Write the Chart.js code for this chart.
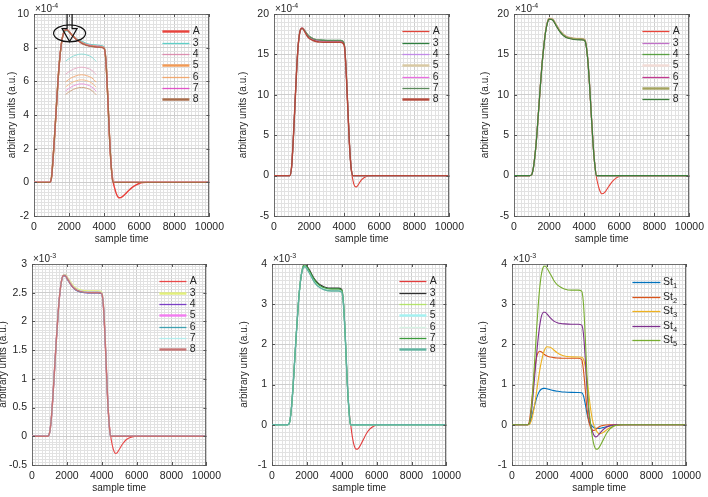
<!DOCTYPE html>
<html>
<head>
<meta charset="utf-8">
<script src="https://cdn.jsdelivr.net/npm/chart.js@4.4.0/dist/chart.umd.min.js"></script>
<style>
  html, body { margin: 0; padding: 0; background: #fff; overflow: hidden; }
  #fig { position: relative; width: 708px; height: 497px; }
  #fig canvas { position: absolute; }
</style>
</head>
<body>
<div id="fig"></div>
<script>
// sample times (x values)
const sampleTime = [0, 900, 1000, 1100, 1200, 1300, 1400, 1500, 1600, 1700,
  1800, 1900, 2000, 2200, 2400, 2600, 2800, 3000, 3400, 3800,
  4000, 4100, 4200, 4300, 4400, 4500, 4600, 4700, 4800, 4900,
  5000, 5200, 5400, 5600, 5800, 6000, 6200, 6400, 7000, 10000];
const sampleTimeShort = [0, 900, 1000, 1100, 1200, 1300, 1400, 1500, 1600, 1700,
  1800, 1900, 2000, 2200, 2400, 2600, 2800, 3000, 3400, 3800,
  4000, 4100, 4200, 4300, 4400, 4500, 4600, 4700, 4800, 10000];
const insetTime = [1800, 2100, 2400, 2700, 3000, 3300, 3550];

const seriesLabels = ['A', '3', '4', '5', '6', '7', '8'];
const stLabels = ['1', '2', '3', '4', '5'];

// all values in units of 1e-4 a.u.
const a1 = [0, 0, 0.3, 1.6, 3.2, 4.9, 6.5, 7.7, 8.5, 8.9,
  9.05, 9.05, 8.95, 8.7, 8.5, 8.35, 8.22, 8.15, 8.07, 8.03,
  7.95, 7.2, 5.2, 2.8, 1.0, 0.1, -0.35, -0.7, -0.88, -0.92,
  -0.88, -0.7, -0.48, -0.3, -0.16, -0.07, -0.02, 0, 0, 0];
const a2 = [0, 0, 1.0, 4.5, 9.0, 13.5, 16.6, 18.0, 18.3, 18.1,
  17.7, 17.35, 17.1, 16.85, 16.7, 16.62, 16.58, 16.55, 16.55, 16.55,
  16.2, 13.5, 8.8, 4.0, 0.9, -0.6, -1.3, -1.4, -1.15, -0.8,
  -0.5, -0.18, -0.05, 0, 0, 0, 0, 0, 0, 0];
const a3 = [0, 0, 0.1, 0.9, 2.6, 5.0, 8.0, 11.0, 13.8, 16.0,
  17.8, 18.9, 19.4, 19.3, 18.6, 17.9, 17.4, 17.1, 16.9, 16.85,
  16.8, 16.3, 14.5, 11.5, 7.8, 4.2, 1.5, -0.2, -1.2, -1.9,
  -2.25, -2.0, -1.35, -0.75, -0.35, -0.12, -0.02, 0, 0, 0];
const a4 = [0, 0, 0.5, 2.8, 7.0, 12.0, 17.0, 21.5, 25.0, 27.2,
  28.0, 28.0, 27.6, 26.6, 25.8, 25.4, 25.2, 25.1, 25.0, 25.0,
  24.8, 22.5, 16.5, 9.0, 3.2, 0.3, -1.5, -2.6, -3.0, -2.8,
  -2.3, -1.3, -0.6, -0.25, -0.06, 0, 0, 0, 0, 0];
const a5 = [0, 0, 0.5, 3.5, 9.0, 16.0, 23.0, 29.5, 34.5, 37.8,
  39.3, 39.5, 39.0, 37.5, 35.9, 34.8, 34.2, 33.8, 33.5, 33.5,
  33.2, 30.0, 22.0, 12.0, 4.5, 0.5, -2.8, -5.0, -6.0, -6.05,
  -5.6, -4.0, -2.3, -1.1, -0.4, -0.1, 0, 0, 0, 0];

// panel 1, series 3..8
const p1s3 = [0, 0, 0.3, 1.6, 3.2, 4.9, 6.5, 7.7, 8.5, 8.9, 9.0, 9.0, 8.93, 8.74, 8.57, 8.44, 8.33, 8.25, 8.17, 8.13, 8.05, 7.3, 5.3, 2.9, 1.0, 0, 0, 0, 0, 0];
const p1s4 = [0, 0, 0.3, 1.6, 3.2, 4.9, 6.5, 7.7, 8.5, 8.9, 9.05, 9.04, 8.95, 8.73, 8.54, 8.4, 8.28, 8.2, 8.12, 8.08, 8.0, 7.25, 5.25, 2.85, 1.0, 0, 0, 0, 0, 0];
const p1s5 = [0, 0, 0.3, 1.6, 3.2, 4.9, 6.5, 7.7, 8.5, 8.9, 9.06, 9.05, 8.96, 8.72, 8.52, 8.37, 8.25, 8.17, 8.09, 8.05, 7.98, 7.22, 5.22, 2.82, 1.0, 0, 0, 0, 0, 0];
const p1s6 = [0, 0, 0.3, 1.6, 3.2, 4.9, 6.5, 7.7, 8.5, 8.9, 9.06, 9.05, 8.95, 8.71, 8.51, 8.36, 8.24, 8.16, 8.08, 8.04, 7.97, 7.21, 5.21, 2.81, 1.0, 0, 0, 0, 0, 0];
const p1s7 = [0, 0, 0.3, 1.6, 3.2, 4.9, 6.5, 7.7, 8.5, 8.9, 9.06, 9.05, 8.95, 8.7, 8.5, 8.35, 8.23, 8.15, 8.07, 8.03, 7.96, 7.2, 5.2, 2.8, 1.0, 0, 0, 0, 0, 0];
const p1s8 = [0, 0, 0.3, 1.6, 3.2, 4.9, 6.5, 7.7, 8.5, 8.9, 9.05, 9.04, 8.94, 8.7, 8.5, 8.35, 8.22, 8.14, 8.06, 8.02, 7.95, 7.2, 5.2, 2.8, 1.0, 0, 0, 0, 0, 0];
// panel 1 inset arcs
const in3 = [7.2, 7.42, 7.56, 7.62, 7.57, 7.43, 7.18];
const in4 = [6.42, 6.64, 6.78, 6.84, 6.79, 6.65, 6.4];
const in5 = [5.97, 6.19, 6.33, 6.39, 6.34, 6.2, 5.95];
const in6 = [5.67, 5.89, 6.03, 6.09, 6.04, 5.9, 5.65];
const in7 = [5.43, 5.65, 5.79, 5.85, 5.8, 5.66, 5.41];
const in8 = [5.22, 5.44, 5.58, 5.64, 5.59, 5.45, 5.2];

// panel 2
const p2s3 = [0, 0, 1.0, 4.5, 9.0, 13.5, 16.6, 18.0, 18.2, 18.1, 17.8, 17.5, 17.25, 17.0, 16.85, 16.8, 16.77, 16.75, 16.75, 16.75, 16.4, 13.6, 8.9, 4.0, 0.9, 0, 0, 0, 0, 0];
const p2s4 = [0, 0, 1.0, 4.5, 9.0, 13.5, 16.6, 18.0, 18.25, 18.05, 17.7, 17.4, 17.15, 16.9, 16.75, 16.68, 16.64, 16.62, 16.62, 16.62, 16.3, 13.5, 8.8, 4.0, 0.9, 0, 0, 0, 0, 0];
const p2s5 = [0, 0, 1.0, 4.5, 9.0, 13.5, 16.6, 18.05, 18.3, 18.15, 17.8, 17.45, 17.2, 16.95, 16.8, 16.72, 16.68, 16.66, 16.65, 16.65, 16.3, 13.6, 8.9, 4.0, 0.9, 0, 0, 0, 0, 0];
const p2s6 = [0, 0, 1.0, 4.5, 9.0, 13.5, 16.6, 18.0, 18.28, 18.1, 17.75, 17.42, 17.17, 16.92, 16.77, 16.7, 16.66, 16.64, 16.63, 16.63, 16.3, 13.5, 8.8, 4.0, 0.9, 0, 0, 0, 0, 0];
const p2s7 = [0, 0, 1.0, 4.5, 9.0, 13.5, 16.6, 18.0, 18.22, 18.08, 17.78, 17.47, 17.22, 16.97, 16.82, 16.75, 16.72, 16.7, 16.7, 16.7, 16.35, 13.6, 8.9, 4.0, 0.9, 0, 0, 0, 0, 0];
const p2s8 = [0, 0, 1.0, 4.5, 9.0, 13.5, 16.6, 18.0, 18.25, 18.0, 17.6, 17.25, 17.0, 16.75, 16.6, 16.52, 16.5, 16.5, 16.5, 16.5, 16.15, 13.4, 8.7, 3.9, 0.9, 0, 0, 0, 0, 0];

// panel 3
const p3s3 = [0, 0, 0.1, 0.9, 2.6, 5.0, 8.0, 11.0, 13.8, 16.0, 17.8, 18.95, 19.45, 19.38, 18.7, 18.0, 17.5, 17.2, 17.0, 16.95, 16.9, 16.4, 14.6, 11.6, 7.8, 4.2, 1.5, 0, 0, 0];
const p3s4 = [0, 0, 0.1, 0.9, 2.6, 5.0, 8.0, 11.0, 13.8, 16.0, 17.8, 18.9, 19.38, 19.3, 18.62, 17.92, 17.42, 17.12, 16.92, 16.87, 16.82, 16.3, 14.5, 11.5, 7.8, 4.2, 1.5, 0, 0, 0];
const p3s5 = [0, 0, 0.1, 0.9, 2.6, 5.0, 8.0, 11.0, 13.8, 16.0, 17.85, 19.0, 19.5, 19.45, 18.75, 18.05, 17.55, 17.25, 17.05, 17.0, 16.95, 16.45, 14.6, 11.6, 7.8, 4.2, 1.5, 0, 0, 0];
const p3s6 = [0, 0, 0.1, 0.9, 2.6, 5.0, 8.0, 11.0, 13.8, 16.0, 17.8, 18.92, 19.4, 19.32, 18.64, 17.94, 17.44, 17.14, 16.94, 16.89, 16.84, 16.32, 14.5, 11.5, 7.8, 4.2, 1.5, 0, 0, 0];
const p3s7 = [0, 0, 0.1, 0.9, 2.6, 5.0, 8.0, 11.0, 13.8, 16.0, 17.82, 18.95, 19.43, 19.36, 18.68, 17.98, 17.48, 17.18, 16.98, 16.93, 16.88, 16.36, 14.55, 11.55, 7.8, 4.2, 1.5, 0, 0, 0];
const p3s8 = [0, 0, 0.1, 0.9, 2.6, 5.0, 8.0, 11.0, 13.8, 16.0, 17.75, 18.85, 19.35, 19.25, 18.55, 17.85, 17.35, 17.05, 16.85, 16.8, 16.75, 16.25, 14.45, 11.45, 7.8, 4.2, 1.5, 0, 0, 0];

// panel 4
const p4s3 = [0, 0, 0.5, 2.8, 7.0, 12.0, 17.0, 21.5, 25.0, 27.2, 28.1, 28.2, 27.85, 26.9, 26.1, 25.65, 25.45, 25.35, 25.3, 25.3, 25.1, 22.7, 16.6, 9.0, 3.2, 0, 0, 0, 0, 0];
const p4s4 = [0, 0, 0.5, 2.8, 7.0, 12.0, 17.0, 21.5, 25.0, 27.2, 27.9, 27.9, 27.5, 26.5, 25.7, 25.3, 25.1, 25.0, 24.95, 24.95, 24.75, 22.4, 16.4, 9.0, 3.2, 0, 0, 0, 0, 0];
const p4s5 = [0, 0, 0.5, 2.8, 7.0, 12.0, 17.0, 21.5, 25.0, 27.2, 28.0, 28.05, 27.65, 26.65, 25.85, 25.45, 25.25, 25.15, 25.1, 25.1, 24.9, 22.5, 16.5, 9.0, 3.2, 0, 0, 0, 0, 0];
const p4s6 = [0, 0, 0.5, 2.8, 7.0, 12.0, 17.0, 21.5, 25.0, 27.2, 27.95, 27.95, 27.55, 26.55, 25.75, 25.35, 25.15, 25.05, 25.0, 25.0, 24.8, 22.45, 16.45, 9.0, 3.2, 0, 0, 0, 0, 0];
const p4s7 = [0, 0, 0.5, 2.8, 7.0, 12.0, 17.0, 21.5, 25.0, 27.2, 28.05, 28.1, 27.7, 26.7, 25.9, 25.5, 25.3, 25.2, 25.15, 25.15, 24.95, 22.6, 16.55, 9.0, 3.2, 0, 0, 0, 0, 0];
const p4s8 = [0, 0, 0.5, 2.8, 7.0, 12.0, 17.0, 21.5, 25.0, 27.2, 28.0, 28.0, 27.6, 26.6, 25.8, 25.4, 25.2, 25.1, 25.05, 25.05, 24.85, 22.5, 16.5, 9.0, 3.2, 0, 0, 0, 0, 0];

// panel 5
const p5s3 = [0, 0, 0.5, 3.5, 9.0, 16.0, 23.0, 29.5, 34.5, 37.8, 39.6, 39.9, 39.5, 38.1, 36.5, 35.4, 34.7, 34.3, 34.0, 34.0, 33.7, 30.4, 22.2, 12.0, 4.5, 0, 0, 0, 0, 0];
const p5s4 = [0, 0, 0.5, 3.5, 9.0, 16.0, 23.0, 29.5, 34.5, 37.8, 39.4, 39.6, 39.1, 37.6, 36.0, 34.9, 34.3, 33.9, 33.6, 33.6, 33.3, 30.1, 22.0, 12.0, 4.5, 0, 0, 0, 0, 0];
const p5s5 = [0, 0, 0.5, 3.5, 9.0, 16.0, 23.0, 29.5, 34.5, 37.8, 39.3, 39.5, 39.0, 37.5, 35.9, 34.8, 34.2, 33.8, 33.5, 33.5, 33.2, 30.0, 22.0, 12.0, 4.5, 0, 0, 0, 0, 0];
const p5s6 = [0, 0, 0.5, 3.5, 9.0, 16.0, 23.0, 29.5, 34.5, 37.8, 39.35, 39.55, 39.05, 37.55, 35.95, 34.85, 34.25, 33.85, 33.55, 33.55, 33.25, 30.0, 22.0, 12.0, 4.5, 0, 0, 0, 0, 0];
const p5s7 = [0, 0, 0.5, 3.5, 9.0, 16.0, 23.0, 29.5, 34.5, 37.8, 39.5, 39.8, 39.35, 37.9, 36.3, 35.2, 34.5, 34.1, 33.8, 33.8, 33.5, 30.2, 22.1, 12.0, 4.5, 0, 0, 0, 0, 0];
const p5s8 = [0, 0, 0.5, 3.5, 9.0, 16.0, 23.0, 29.5, 34.5, 37.8, 39.1, 39.3, 38.8, 37.3, 35.7, 34.6, 34.0, 33.6, 33.3, 33.3, 33.0, 29.8, 21.9, 12.0, 4.5, 0, 0, 0, 0, 0];

const TXT = '#262626';
const BOX = '#6e6e6e';
const GRID_MAJOR = '#cdcdcd';
const GRID_MINOR = '#e2e2e2';
const FONT = '"Liberation Sans", Arial, sans-serif';

Chart.defaults.font.family = FONT;

function isMajor(v, major) {
  const r = v / major;
  return Math.abs(r - Math.round(r)) < 1e-6;
}
function fmt(v) {
  const r = Math.round(v * 100) / 100;
  return String(r === 0 ? 0 : r);
}

// thick legend entries get a wider sample line; plot lines stay thin
function line(label, xs, ys, color, thick, order) {
  return {
    label: label,
    data: ys.map((v, i) => ({ x: xs[i], y: v })),
    borderColor: color,
    borderWidth: thick ? 1.4 : 1.1,
    legendWidth: thick ? 2.4 : 1.3,
    pointRadius: 0,
    fill: false,
    cubicInterpolationMode: 'monotone',
    order: order
  };
}

function stepSeries(A, rest, colors, thick) {
  const sets = [line(seriesLabels[0], sampleTime, A, colors[0], thick[0], 10)];
  rest.forEach((ys, i) => {
    sets.push(line(seriesLabels[i + 1], sampleTimeShort, ys, colors[i + 1], thick[i + 1], 9 - i));
  });
  return sets;
}

const panel1Sets = stepSeries(a1, [p1s3, p1s4, p1s5, p1s6, p1s7, p1s8],
  ['#e8423c', '#5fcfc7', '#dc8fb0', '#f29a55', '#f0a970', '#e055c8', '#a86b48'],
  [1, 0, 0, 1, 0, 0, 1]);
[[in3, '#8fdcd6'], [in4, '#e8b0c8'], [in5, '#f4b07e'], [in6, '#f6bf90'], [in7, '#eb9cdc'], [in8, '#d2a888']]
  .forEach(([ys, c]) => {
    const d = line('', insetTime, ys, c, 0, 20);
    d.borderWidth = 1;
    d.cubicInterpolationMode = 'default';
    d.tension = 0.4;
    panel1Sets.push(d);
  });

const panel6Sets = [a1, a2, a3, a4, a5].map((ys, i) => {
  const d = line('St', sampleTime, ys, ['#0072BD', '#D95319', '#EDB120', '#7E2F8E', '#77AC30'][i], 0, 10 - i);
  d.sub = stLabels[i];
  return d;
});

const legendSmall = { x0: 47, x1: 20, tx: 16.7, top: 17.4, step: 11.3 };
const legendSt = { x0: 54, x1: 26, tx: 23.3, top: 18, step: 14.5 };

const panels = [
  { box: [34, 14, 213, 216], y: [-2, 10, 0.2, 2, 1], exp: '-4', tOff: 22, legend: legendSmall, mark: true,
    sets: panel1Sets },
  { box: [274, 14, 453, 216], y: [-5, 20, 0.5, 5, 1], exp: '-4', tOff: 31, legend: legendSmall,
    sets: stepSeries(a2, [p2s3, p2s4, p2s5, p2s6, p2s7, p2s8],
      ['#e0443a', '#2f7f3f', '#c28ae8', '#d9c9a3', '#e86ee0', '#5b8a5b', '#b5483a'],
      [0, 0, 0, 1, 0, 0, 1]) },
  { box: [514, 14, 693, 216], y: [-5, 20, 0.5, 5, 1], exp: '-4', tOff: 29, legend: legendSmall,
    sets: stepSeries(a3, [p3s3, p3s4, p3s5, p3s6, p3s7, p3s8],
      ['#e8443a', '#c070c8', '#5aa043', '#f2dcd6', '#c03a90', '#a3a35e', '#3b7d3b'],
      [0, 0, 0, 1, 0, 1, 0]) },
  { box: [32, 264, 210, 465], y: [-5, 30, 0.5, 5, 10], exp: '-3', tOff: 28.5, legend: legendSmall,
    sets: stepSeries(a4, [p4s3, p4s4, p4s5, p4s6, p4s7, p4s8],
      ['#e84848', '#e3f07a', '#7b3fc4', '#f27cf0', '#3fa0b0', '#b3ecec', '#c77474'],
      [0, 1, 0, 1, 0, 0, 1]) },
  { box: [272, 264, 450, 465], y: [-10, 40, 1, 10, 10], exp: '-3', tOff: 28, legend: legendSmall,
    sets: stepSeries(a5, [p5s3, p5s4, p5s5, p5s6, p5s7, p5s8],
      ['#e23c3c', '#303030', '#b3e36b', '#a4f2f2', '#d6f2e3', '#3b9a3b', '#5fb3a0'],
      [0, 0, 0, 1, 0, 0, 1]) },
  { box: [512, 264, 690, 465], y: [-10, 40, 1, 10, 10], exp: '-3', tOff: 29, legend: legendSt,
    sets: panel6Sets }
];

const axesDecor = {
  id: 'axesDecor',
  afterDraw(chart, args, o) {
    const { ctx, chartArea: a } = chart;
    const xs = chart.scales.x, ys = chart.scales.y;
    ctx.save();
    // box
    ctx.strokeStyle = BOX;
    ctx.lineWidth = 1;
    ctx.beginPath();
    ctx.moveTo(a.left, Math.round(a.top) + 0.5);
    ctx.lineTo(Math.round(a.right) - 0.5, Math.round(a.top) + 0.5);
    ctx.lineTo(Math.round(a.right) - 0.5, a.bottom);
    ctx.stroke();
    // inward major ticks
    ctx.strokeStyle = '#555';
    ctx.beginPath();
    xs.ticks.forEach(t => {
      if (!isMajor(t.value, 2000)) return;
      const px = Math.round(xs.getPixelForValue(t.value)) + 0.5;
      ctx.moveTo(px, a.bottom); ctx.lineTo(px, a.bottom - 3);
      ctx.moveTo(px, a.top); ctx.lineTo(px, a.top + 3);
    });
    ys.ticks.forEach(t => {
      if (!isMajor(t.value, o.major)) return;
      const py = Math.round(ys.getPixelForValue(t.value)) + 0.5;
      ctx.moveTo(a.left, py); ctx.lineTo(a.left + 3, py);
      ctx.moveTo(a.right, py); ctx.lineTo(a.right - 3, py);
    });
    ctx.stroke();

    ctx.fillStyle = TXT;
    // exponent
    ctx.font = '10px ' + FONT;
    ctx.textBaseline = 'alphabetic';
    ctx.textAlign = 'left';
    ctx.fillText('\u00d710', a.left + 1, a.top - 2);
    const w = ctx.measureText('\u00d710').width;
    ctx.font = '7px ' + FONT;
    ctx.fillText(o.exp, a.left + 1 + w, a.top - 6);

    // axis titles
    ctx.font = '10px ' + FONT;
    ctx.textAlign = 'center';
    ctx.textBaseline = 'middle';
    ctx.fillText('sample time', (a.left + a.right) / 2, a.bottom + 23);
    ctx.save();
    ctx.translate(a.left - o.tOff, (a.top + a.bottom) / 2);
    ctx.rotate(-Math.PI / 2);
    ctx.fillText('arbitrary units (a.u.)', 0, 0);
    ctx.restore();

    // legend
    const lg = o.legend;
    let k = 0;
    chart.data.datasets.forEach(d => {
      if (!d.label) return;
      const yy = Math.round(a.top + lg.top + k * lg.step) + 0.5;
      ctx.strokeStyle = d.borderColor;
      ctx.lineWidth = d.legendWidth;
      ctx.beginPath();
      ctx.moveTo(a.right - lg.x0, yy);
      ctx.lineTo(a.right - lg.x1, yy);
      ctx.stroke();
      ctx.fillStyle = TXT;
      ctx.textAlign = 'left';
      ctx.font = '10.5px ' + FONT;
      ctx.fillText(d.label, a.right - lg.tx, yy);
      if (d.sub) {
        const lw = ctx.measureText(d.label).width;
        ctx.font = '7.5px ' + FONT;
        ctx.fillText(d.sub, a.right - lg.tx + lw, yy + 3);
      }
      k++;
    });

    // highlight mark (ellipse + arrow)
    if (o.mark) {
      const cx = xs.getPixelForValue(2000) + 0.5;
      const cy = ys.getPixelForValue(8.85);
      ctx.strokeStyle = '#111';
      ctx.lineWidth = 1.2;
      ctx.beginPath();
      ctx.ellipse(cx, cy, 16, 8.5, 0, 0, Math.PI * 2);
      ctx.stroke();
      ctx.beginPath();
      ctx.moveTo(cx - 2.5, a.top);
      ctx.lineTo(cx - 2.5, cy - 4.7);
      ctx.lineTo(cx - 7.5, cy - 4.7);
      ctx.lineTo(cx, cy + 8.3);
      ctx.lineTo(cx + 7.5, cy - 4.7);
      ctx.lineTo(cx + 2.5, cy - 4.7);
      ctx.lineTo(cx + 2.5, a.top);
      ctx.stroke();
    }
    ctx.restore();
  }
};

const fig = document.getElementById('fig');
panels.forEach(p => {
  const [L, T, R, B] = p.box;
  const [yMin, yMax, yStep, yMajor, yDiv] = p.y;
  const w = R - L + 40 + 16;
  const h = B - T + 14 + 30;
  const cv = document.createElement('canvas');
  cv.width = w;
  cv.height = h;
  cv.style.left = (L - 40) + 'px';
  cv.style.top = (T - 14) + 'px';
  cv.style.width = w + 'px';
  cv.style.height = h + 'px';
  fig.appendChild(cv);

  new Chart(cv, {
    type: 'line',
    data: { datasets: p.sets },
    plugins: [axesDecor],
    options: {
      responsive: false,
      animation: false,
      devicePixelRatio: 1,
      layout: { padding: { left: 6, top: 14, right: 16, bottom: 0 } },
      plugins: {
        legend: { display: false },
        tooltip: { enabled: false },
        axesDecor: { major: yMajor, exp: p.exp, tOff: p.tOff, legend: p.legend, mark: !!p.mark }
      },
      scales: {
        x: {
          type: 'linear',
          min: 0,
          max: 10000,
          afterFit: s => { s.height = 30; },
          border: { color: BOX },
          grid: {
            drawTicks: false,
            color: c => (c.tick && isMajor(c.tick.value, 2000)) ? GRID_MAJOR : GRID_MINOR
          },
          ticks: {
            stepSize: 200,
            autoSkip: false,
            maxRotation: 0,
            padding: 5,
            color: TXT,
            font: { size: 10.5 },
            callback: v => isMajor(v, 2000) ? String(v) : ''
          }
        },
        y: {
          type: 'linear',
          min: yMin,
          max: yMax,
          afterFit: s => { s.width = 34; },
          border: { color: BOX },
          grid: {
            drawTicks: false,
            color: c => (c.tick && isMajor(c.tick.value, yMajor)) ? GRID_MAJOR : GRID_MINOR
          },
          ticks: {
            stepSize: yStep,
            autoSkip: false,
            padding: 5,
            color: TXT,
            font: { size: 10.5 },
            callback: v => isMajor(v, yMajor) ? fmt(v / yDiv) : ''
          }
        }
      }
    }
  });
});
</script>
</body>
</html>
